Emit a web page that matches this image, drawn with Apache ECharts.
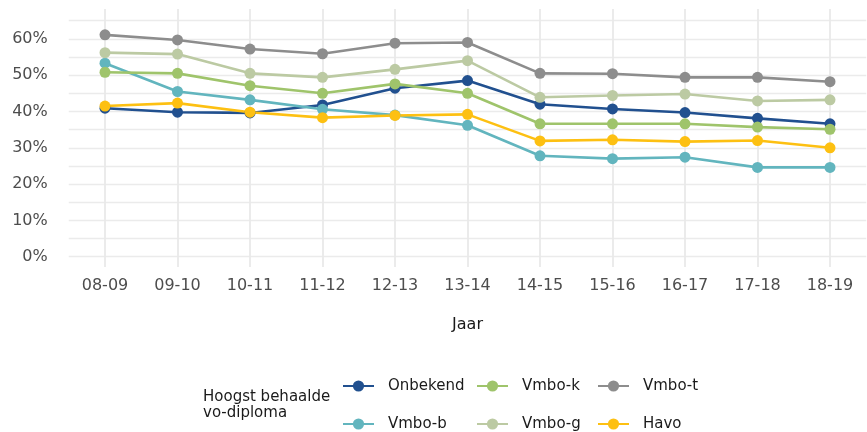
<!DOCTYPE html>
<html>
<head>
<meta charset="utf-8">
<script src="https://cdn.jsdelivr.net/npm/echarts@6/dist/echarts.min.js"></script>
<style>html,body{margin:0;padding:0;background:#fff}#c{width:867px;height:432px}</style>
</head>
<body>
<div id="c"></div>
<script>
var categories = ['08-09','09-10','10-11','11-12','12-13','13-14','14-15','15-16','16-17','17-18','18-19'];
var onbekend = [0.409,0.398,0.396,0.418,0.464,0.485,0.420,0.407,0.397,0.381,0.366];
var vmboB    = [0.533,0.455,0.432,0.406,0.390,0.362,0.278,0.270,0.274,0.246,0.246];
var vmboK    = [0.508,0.505,0.471,0.450,0.476,0.450,0.366,0.366,0.366,0.357,0.351];
var vmboG    = [0.562,0.558,0.505,0.494,0.516,0.540,0.439,0.444,0.448,0.429,0.432];
var vmboT    = [0.611,0.597,0.572,0.559,0.588,0.590,0.505,0.504,0.494,0.494,0.482];
var havo     = [0.415,0.423,0.398,0.383,0.389,0.392,0.319,0.322,0.317,0.320,0.300];
var legendTitle = 'Hoogst behaalde\nvo-diploma';
var xTitle = 'Jaar';

var FONT = 'DejaVu Sans';
function mk(name, data, color){
  return {name:name, type:'line', data:data, xAxisIndex:0, yAxisIndex:0,
    symbol:'circle', symbolSize:11, showSymbol:true,
    lineStyle:{width:2.6,color:color}, itemStyle:{color:color}, emphasis:{disabled:true}, animation:false, z:3};
}
var series = [
  mk('Onbekend', onbekend, '#21508f'),
  mk('Vmbo-b', vmboB, '#62b5be'),
  mk('Vmbo-k', vmboK, '#9fc46b'),
  mk('Vmbo-g', vmboG, '#bccaa3'),
  mk('Vmbo-t', vmboT, '#8d8d8d'),
  mk('Havo', havo, '#fdc012')
];
function leg(left, top, name){
  return {orient:'horizontal', left:left, top:top, itemWidth:31, itemHeight:14,
    data:[name], selectedMode:false, padding:0,
    textStyle:{fontFamily:FONT, fontSize:15, color:'#1a1a1a', lineHeight:16, padding:[0,0,0,9]}};
}
var chart = echarts.init(document.getElementById('c'), null, {renderer:'canvas'});
chart.setOption({
  animation:false,
  backgroundColor:'#fff',
  grid:[
    {left:68.75, right:0.75, top:20.7, bottom:175.3},
    {left:105, right:37, top:9, bottom:165}
  ],
  xAxis:[
    {type:'category', gridIndex:0, data:categories, boundaryGap:true,
     axisLine:{show:false}, axisTick:{show:false}, splitLine:{show:false},
     axisLabel:{margin:21, fontFamily:FONT, fontSize:16, color:'#4d4d4d'},
     name:xTitle, nameLocation:'middle', nameGap:60,
     nameTextStyle:{fontFamily:FONT, fontSize:16, color:'#1a1a1a'}},
    {type:'category', gridIndex:1, data:categories, boundaryGap:false,
     axisLine:{show:false}, axisTick:{show:false}, axisLabel:{show:false},
     splitLine:{show:true, lineStyle:{color:'#e9e9e9', width:1.8}}}
  ],
  yAxis:[
    {type:'value', gridIndex:0, min:0, max:0.65, interval:0.05,
     axisLine:{show:false}, axisTick:{show:false},
     splitLine:{show:true, lineStyle:{color:'#ebebeb', width:1.4}},
     axisLabel:{margin:21, fontFamily:FONT, fontSize:16, color:'#4d4d4d',
       formatter:function(v){var p=Math.round(v*100); return (p%10===0)? p+'%' : '';}}},
    {type:'value', gridIndex:1, min:0, max:1, show:false, splitLine:{show:false}}
  ],
  legend:[
    leg(342, 378, 'Onbekend'),
    leg(342, 416, 'Vmbo-b'),
    leg(476, 378, 'Vmbo-k'),
    leg(476, 416, 'Vmbo-g'),
    leg(597, 378, 'Vmbo-t'),
    leg(597, 416, 'Havo')
  ],
  graphic:[
    {type:'text', left:203, top:389, style:{text:legendTitle, fontFamily:FONT, fontSize:15, lineHeight:16, fill:'#1a1a1a'}}
  ],
  series:series
});
</script>
</body>
</html>
